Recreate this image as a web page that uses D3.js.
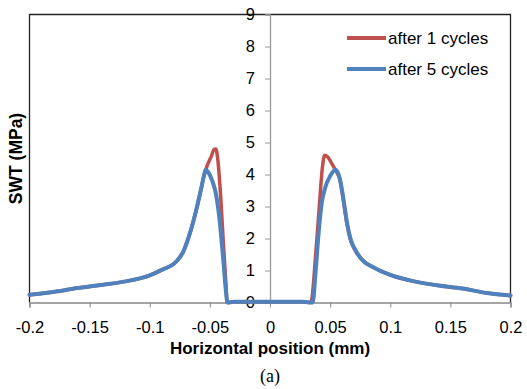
<!DOCTYPE html>
<html>
<head>
<meta charset="utf-8">
<script src="https://cdn.jsdelivr.net/npm/d3@7"></script>
<style>
  body { margin: 0; background: #fff; }
  svg { display: block; }
  text { font-family: "Liberation Sans", Arial, sans-serif; fill: #000; }
</style>
</head>
<body>
<svg id="chart"></svg>
<script>
// values
const xTicks = [-0.2, -0.15, -0.1, -0.05, 0, 0.05, 0.1, 0.15, 0.2];
const yTicks = [0, 1, 2, 3, 4, 5, 6, 7, 8, 9];

const x1 = [-0.2, -0.18, -0.16, -0.15, -0.14, -0.12, -0.1, -0.09, -0.078, -0.072, -0.068, -0.064, -0.06, -0.057, -0.055,
  -0.052, -0.049, -0.0465, -0.045, -0.0435, -0.041, -0.039, -0.037, -0.0355, -0.03, 0, 0.027, 0.034,
  0.038, 0.041, 0.0435, 0.0455, 0.048, 0.052, 0.055, 0.058, 0.061, 0.064, 0.067, 0.071, 0.078,
  0.085, 0.1, 0.12, 0.14, 0.16, 0.18, 0.2];
const y1 = [0.24, 0.33, 0.45, 0.5, 0.55, 0.66, 0.85, 1.02, 1.28, 1.6, 2.0, 2.5, 3.1, 3.6, 3.95,
  4.3, 4.55, 4.78, 4.8, 4.5, 3.3, 2.0, 0.8, 0, 0.02, 0.02, 0.02, 0,
  1.5, 3.0, 4.2, 4.6, 4.55, 4.3, 4.1, 3.85, 3.2, 2.45, 1.95, 1.62, 1.28,
  1.12, 0.86, 0.66, 0.53, 0.44, 0.3, 0.22];

const x5 = [-0.2, -0.18, -0.16, -0.15, -0.14, -0.12, -0.1, -0.09, -0.078, -0.072, -0.068, -0.064, -0.06, -0.057, -0.055,
  -0.0535, -0.051, -0.048, -0.045, -0.042, -0.039, -0.0365, -0.0355, -0.03, 0, 0.027, 0.0355,
  0.038, 0.0405, 0.043, 0.046, 0.05, 0.0545, 0.058, 0.061, 0.064, 0.067, 0.071, 0.078,
  0.085, 0.1, 0.12, 0.14, 0.16, 0.18, 0.2];
const y5 = [0.24, 0.33, 0.45, 0.5, 0.55, 0.66, 0.85, 1.02, 1.28, 1.6, 2.0, 2.5, 3.1, 3.6, 3.95,
  4.15, 4.05, 3.8, 3.4, 2.6, 1.4, 0.3, 0, 0.02, 0.02, 0.02, 0,
  1.0, 2.2, 3.1, 3.6, 3.95, 4.15, 3.88, 3.25, 2.5, 1.98, 1.64, 1.28,
  1.12, 0.86, 0.66, 0.53, 0.44, 0.3, 0.22];

const seriesNames = ["after 1 cycles", "after 5 cycles"];
const seriesColors = ["#C0504D", "#4F81BD"];

const W = 527, H = 389;
const plot = {left: 29.5, right: 510.5, top: 14.5, bottom: 302.5};

const svg = d3.select("#chart").attr("width", W).attr("height", H);

const x = d3.scaleLinear().domain([-0.2, 0.2]).range([plot.left, plot.right]);
const y = d3.scaleLinear().domain([0, 9]).range([plot.bottom, plot.top]);

// plot frame (left, top, right)
svg.append("path")
  .attr("d", `M${plot.left},${plot.bottom}V${plot.top}H${plot.right}V${plot.bottom}`)
  .attr("fill", "none")
  .attr("stroke", "#222")
  .attr("stroke-width", 1.3);

// x axis at y = 0 (plain hyphen minus like the original)
const xAxis = svg.append("g")
  .attr("transform", `translate(0,${y(0)})`)
  .call(d3.axisBottom(x).tickValues(xTicks).tickSize(5).tickFormat(d => String(d)));
xAxis.select(".domain").attr("stroke", "#888").attr("stroke-width", 1.3);
xAxis.selectAll(".tick line").attr("stroke", "#888");
xAxis.selectAll(".tick text")
  .attr("y", 19)
  .style("font-size", "16.5px")
  .style("font-family", "Liberation Sans, Arial, sans-serif")
  .attr("fill", "#000");

// y axis at x = 0
const yAxis = svg.append("g")
  .attr("transform", `translate(${x(0)},0)`)
  .call(d3.axisLeft(y).tickValues(yTicks).tickSize(5).tickFormat(d3.format("d")));
yAxis.select(".domain").attr("stroke", "#999").attr("stroke-width", 1.3);
yAxis.selectAll(".tick line").attr("stroke", "#999");
yAxis.selectAll(".tick text")
  .attr("x", -15)
  .style("font-size", "16.5px")
  .style("font-family", "Liberation Sans, Arial, sans-serif")
  .attr("fill", "#000");

// lines
const line = d3.line()
  .x(d => x(d[0]))
  .y(d => y(d[1]))
  .curve(d3.curveMonotoneX);

const series = [d3.zip(x1, y1), d3.zip(x5, y5)];
series.forEach((pts, i) => {
  svg.append("path")
    .datum(pts)
    .attr("d", line)
    .attr("fill", "none")
    .attr("stroke", seriesColors[i])
    .attr("stroke-width", i === 0 ? 3.5 : 4)
    .attr("stroke-linejoin", "round")
    .attr("stroke-linecap", "round");
});

// legend
const legend = svg.append("g").attr("transform", "translate(347,38)");
seriesNames.forEach((name, i) => {
  const g = legend.append("g").attr("transform", `translate(0,${i * 31})`);
  g.append("line")
    .attr("x1", 0).attr("x2", 39)
    .attr("stroke", seriesColors[i])
    .attr("stroke-width", 4);
  g.append("text")
    .attr("x", 41)
    .attr("dy", "0.35em")
    .style("font-size", "17px")
    .text(name);
});

// axis titles
svg.append("text")
  .attr("x", x(0))
  .attr("y", 354)
  .attr("text-anchor", "middle")
  .style("font-size", "17px")
  .style("font-weight", "bold")
  .text("Horizontal position (mm)");

svg.append("text")
  .attr("transform", `translate(22,${(plot.top + plot.bottom) / 2}) rotate(-90)`)
  .attr("text-anchor", "middle")
  .style("font-size", "17.5px")
  .style("font-weight", "bold")
  .text("SWT (MPa)");

svg.append("text")
  .attr("x", x(0))
  .attr("y", 382)
  .attr("text-anchor", "middle")
  .style("font-family", "Liberation Serif, Times New Roman, serif")
  .style("font-size", "18px")
  .text("(a)");
</script>
</body>
</html>
